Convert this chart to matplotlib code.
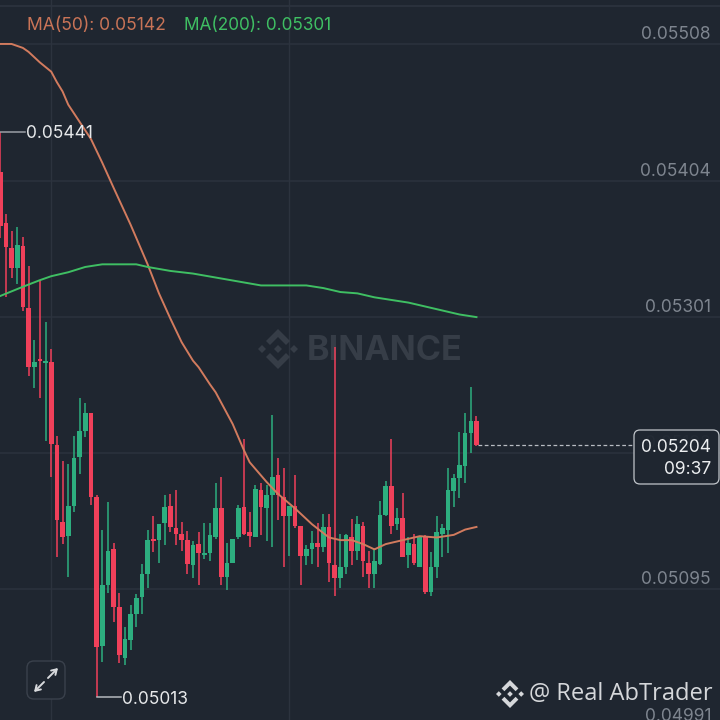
import numpy as np
import matplotlib
matplotlib.use('Agg')
import matplotlib.pyplot as plt
from matplotlib.patches import FancyBboxPatch, Polygon
from matplotlib.transforms import Affine2D

# prices in units of 0.00001
opens = [5411, 5372, 5353, 5338, 5355, 5308, 5263, 5269, 5266, 5267, 5204, 5146, 5135, 5158, 5195, 5215, 5228,
         5165, 5052, 5098, 5125, 5081, 5043, 5056, 5076, 5089, 5106, 5133, 5132, 5145, 5158, 5141, 5137, 5132,
         5113, 5129, 5121, 5122, 5134, 5156, 5104, 5115, 5134, 5157, 5138, 5134, 5170, 5156, 5166, 5181, 5165,
         5150, 5158, 5143, 5120, 5125, 5130, 5127, 5142, 5113, 5103, 5112, 5134, 5124, 5143, 5115, 5106, 5114,
         5151, 5173, 5144, 5149, 5121, 5129, 5112, 5134, 5093, 5112, 5137, 5140, 5169, 5179, 5188, 5213, 5222]
highs = [5441, 5379, 5366, 5369, 5362, 5340, 5284, 5329, 5297, 5277, 5211, 5192, 5190, 5211, 5240, 5236, 5228,
         5166, 5140, 5161, 5130, 5092, 5066, 5083, 5091, 5114, 5140, 5150, 5144, 5166, 5167, 5170, 5146, 5139,
         5131, 5138, 5145, 5145, 5175, 5180, 5130, 5133, 5159, 5209, 5153, 5174, 5175, 5174, 5227, 5194, 5187,
         5158, 5181, 5143, 5128, 5139, 5145, 5152, 5152, 5278, 5137, 5137, 5148, 5150, 5146, 5124, 5126, 5162,
         5177, 5209, 5156, 5168, 5134, 5137, 5134, 5136, 5123, 5150, 5144, 5187, 5182, 5214, 5228, 5248, 5226]
lows = [5361, 5316, 5331, 5326, 5306, 5256, 5247, 5240, 5207, 5180, 5119, 5129, 5104, 5153, 5182, 5210, 5159,
        5013, 5040, 5092, 5070, 5039, 5037, 5049, 5066, 5076, 5096, 5123, 5115, 5128, 5138, 5128, 5124, 5106,
        5103, 5098, 5118, 5116, 5133, 5098, 5094, 5115, 5133, 5136, 5127, 5134, 5136, 5131, 5127, 5147, 5112,
        5120, 5141, 5098, 5113, 5114, 5112, 5123, 5100, 5090, 5096, 5106, 5113, 5117, 5104, 5096, 5096, 5113,
        5150, 5137, 5140, 5119, 5111, 5113, 5112, 5091, 5090, 5103, 5119, 5122, 5157, 5164, 5175, 5198, 5203]
closes = [5370, 5354, 5338, 5356, 5309, 5263, 5267, 5268, 5268, 5205, 5147, 5134, 5158, 5194, 5215, 5228, 5165,
          5051, 5098, 5124, 5081, 5045, 5057, 5076, 5088, 5106, 5132, 5131, 5144, 5157, 5142, 5137, 5132, 5114,
          5128, 5122, 5122, 5136, 5156, 5104, 5115, 5133, 5156, 5137, 5135, 5171, 5157, 5166, 5180, 5166, 5150,
          5158, 5143, 5120, 5125, 5130, 5127, 5142, 5115, 5103, 5112, 5136, 5124, 5144, 5116, 5106, 5116, 5151,
          5173, 5143, 5149, 5119, 5130, 5115, 5134, 5093, 5112, 5138, 5141, 5170, 5179, 5189, 5213, 5222, 5204]

ma50_idx = [0, 2, 4, 5, 7, 9, 10, 11, 12, 14, 16, 18, 20, 23, 26, 28, 30, 32, 34, 35, 37, 38, 41, 43, 44, 47, 49,
            52, 55, 58, 60, 62, 64, 66, 68, 71, 74, 77, 80, 82, 84]
ma50 = [5508, 5508, 5505, 5502, 5494, 5487, 5479, 5472, 5462, 5449, 5436, 5418, 5399, 5371, 5341, 5319, 5300, 5282,
        5268, 5263, 5250, 5244, 5220, 5200, 5191, 5176, 5167, 5156, 5144, 5134, 5132, 5132, 5129, 5125, 5129, 5132,
        5135, 5134, 5136, 5140, 5142]
ma200_idx = [0, 4, 7, 9, 12, 15, 18, 21, 24, 26, 30, 34, 38, 42, 46, 49, 51, 54, 57, 60, 63, 66, 69, 72, 75, 78, 81, 84]
ma200 = [5317, 5324, 5329, 5332, 5335, 5339, 5341, 5341, 5341, 5339, 5336, 5334, 5331, 5328, 5325, 5325, 5325, 5325,
         5323, 5320, 5319, 5316, 5314, 5312, 5309, 5306, 5303, 5301]

tick_prices = [5508, 5404, 5301, 5198, 5095, 4991]
tick_labels = ['0.05508', '0.05404', '0.05301', '0.05198', '0.05095', '0.04991']
v_grid = [9, 51]

BG = '#1f2630'
GRID = '#2c333e'
RED = '#f0405a'
GREEN = '#2dae7f'
plt.rcParams['font.family'] = ['Inter', 'DejaVu Sans']


def logo(ax, cx, cy, r, color, tr, z):
    # binance diamond logo in pixel coords
    d = 0.2
    for mx in (-0.8, 0, 0.8):
        pts = [(mx - d, 0), (mx, d), (mx + d, 0), (mx, -d)]
        ax.add_patch(Polygon([(cx + r * a, cy + r * b) for a, b in pts], fc=color, ec='none',
                             transform=tr, zorder=z, clip_on=False))
    for s in (-1, 1):
        pts = [(0, 1), (0.6, 0.4), (0.4, 0.2), (0, 0.6), (-0.4, 0.2), (-0.6, 0.4)]
        ax.add_patch(Polygon([(cx + r * a, cy + s * r * b) for a, b in pts], fc=color, ec='none',
                             transform=tr, zorder=z, clip_on=False))


def main():
    fig = plt.figure(figsize=(7.2, 7.2), dpi=100, facecolor=BG)
    ax = fig.add_axes([0, 0, 1, 1], facecolor=BG)
    ax.set_axis_off()

    idx = np.arange(len(opens))
    o = np.array(opens) / 1e5
    h = np.array(highs) / 1e5
    l = np.array(lows) / 1e5
    c = np.array(closes) / 1e5

    # one candle is 5.67 px wide, price scale is 0.7578 units per px
    ax.set_xlim(-0.2 / 5.67, 719.8 / 5.67)
    ax.set_ylim(4995.7 / 1e5, 5541.3 / 1e5)

    # y pointing down, in pixels from the top left
    px = Affine2D().scale(1, -1).translate(0, 720)

    for t in tick_prices:
        ax.axhline(t / 1e5, color=GRID, lw=1.1, zorder=1)
    for v in v_grid:
        ax.axvline(v, color=GRID, lw=1.0, zorder=1)
    ax.plot([0, 720], [6, 6], color=GRID, lw=1.3, transform=px, zorder=1, clip_on=False)

    # watermark sits under the candles
    logo(ax, 278, 349, 20, '#363d47', px, 1.5)
    ax.text(307, 351, 'BINANCE', color='#363d47', fontsize=24.6, fontweight='bold', va='center', ha='left',
            transform=px, zorder=1.5)

    colors = [GREEN if b >= a else RED for a, b in zip(o, c)]
    ax.vlines(idx, l, h, colors=colors, lw=1.1, zorder=2)
    ax.bar(idx, np.abs(c - o), bottom=np.minimum(o, c), width=4.6 / 5.67, color=colors, zorder=3)

    ax.plot(ma50_idx, np.array(ma50) / 1e5, color='#d27b5e', lw=1.4, zorder=4)
    ax.plot(ma200_idx, np.array(ma200) / 1e5, color='#3fbf63', lw=1.4, zorder=4)

    # price scale labels sit above their lines
    for t, lab in zip(tick_prices, tick_labels):
        ax.annotate(lab, xy=(711, 720 - (5541.3 - t) / 0.7578), xycoords='figure pixels', xytext=(0, 7),
                    textcoords='offset points', ha='right', va='center', color='#7e858f', fontsize=12.5,
                    annotation_clip=False, zorder=5)

    ax.text(27, 25, 'MA(50): 0.05142', color='#c97457', fontsize=12.6, va='center', transform=px, zorder=6)
    ax.text(184, 25, 'MA(200): 0.05301', color='#3fbf63', fontsize=12.4, va='center', transform=px, zorder=6)

    # high / low markers
    ax.plot([0, 25], [132, 132], color='#9a9fa6', lw=1.1, transform=px, zorder=5)
    ax.text(26, 133, '0.05441', color='#e6e8ea', fontsize=12.5, va='center', transform=px, zorder=6)
    ax.plot([97, 121], [697, 697], color='#b5b9be', lw=1.1, transform=px, zorder=5)
    ax.text(122, 699, '0.05013', color='#e6e8ea', fontsize=12.5, va='center', transform=px, zorder=6)

    # last price tag
    ax.plot([478, 634], [445, 445], color='#b8bcc2', lw=0.9, ls=(0, (3, 2)), transform=px, zorder=5)
    ax.add_patch(FancyBboxPatch((637, 433), 79, 48, boxstyle='round,pad=3,rounding_size=6', fc=BG, ec='#c9cdd2',
                                lw=0.9, alpha=0.95, transform=px, zorder=6, clip_on=False))
    ax.text(711, 447, '0.05204', color='#eceef0', fontsize=12.5, ha='right', va='center', transform=px, zorder=7)
    ax.text(711, 470, '09:37', color='#eceef0', fontsize=12.5, ha='right', va='center', transform=px, zorder=7)

    # expand button
    ax.add_patch(FancyBboxPatch((33, 667), 26, 26, boxstyle='round,pad=6,rounding_size=7', fc=BG, ec='#3a414c',
                                lw=1.0, transform=px, zorder=6, clip_on=False))
    for x0, y0, x1, y1 in [(48, 678, 58, 668), (44, 682, 34, 692)]:
        ax.annotate('', xy=(x1, 720 - y1), xytext=(x0, 720 - y0), xycoords='figure pixels',
                    textcoords='figure pixels', zorder=7,
                    arrowprops=dict(arrowstyle='->,head_length=0.35,head_width=0.22', color='#d8dadd', lw=1.4,
                                    shrinkA=0, shrinkB=0))

    # author watermark
    logo(ax, 510, 694, 14, '#d5d7da', px, 7)
    ax.text(529, 694, '@ Real AbTrader', color='#d5d7da', fontsize=17, family=['Open Sans', 'DejaVu Sans'],
            va='center', transform=px, zorder=7)

    fig.savefig('out.png', dpi=100, facecolor=BG)


if __name__ == '__main__':
    main()
